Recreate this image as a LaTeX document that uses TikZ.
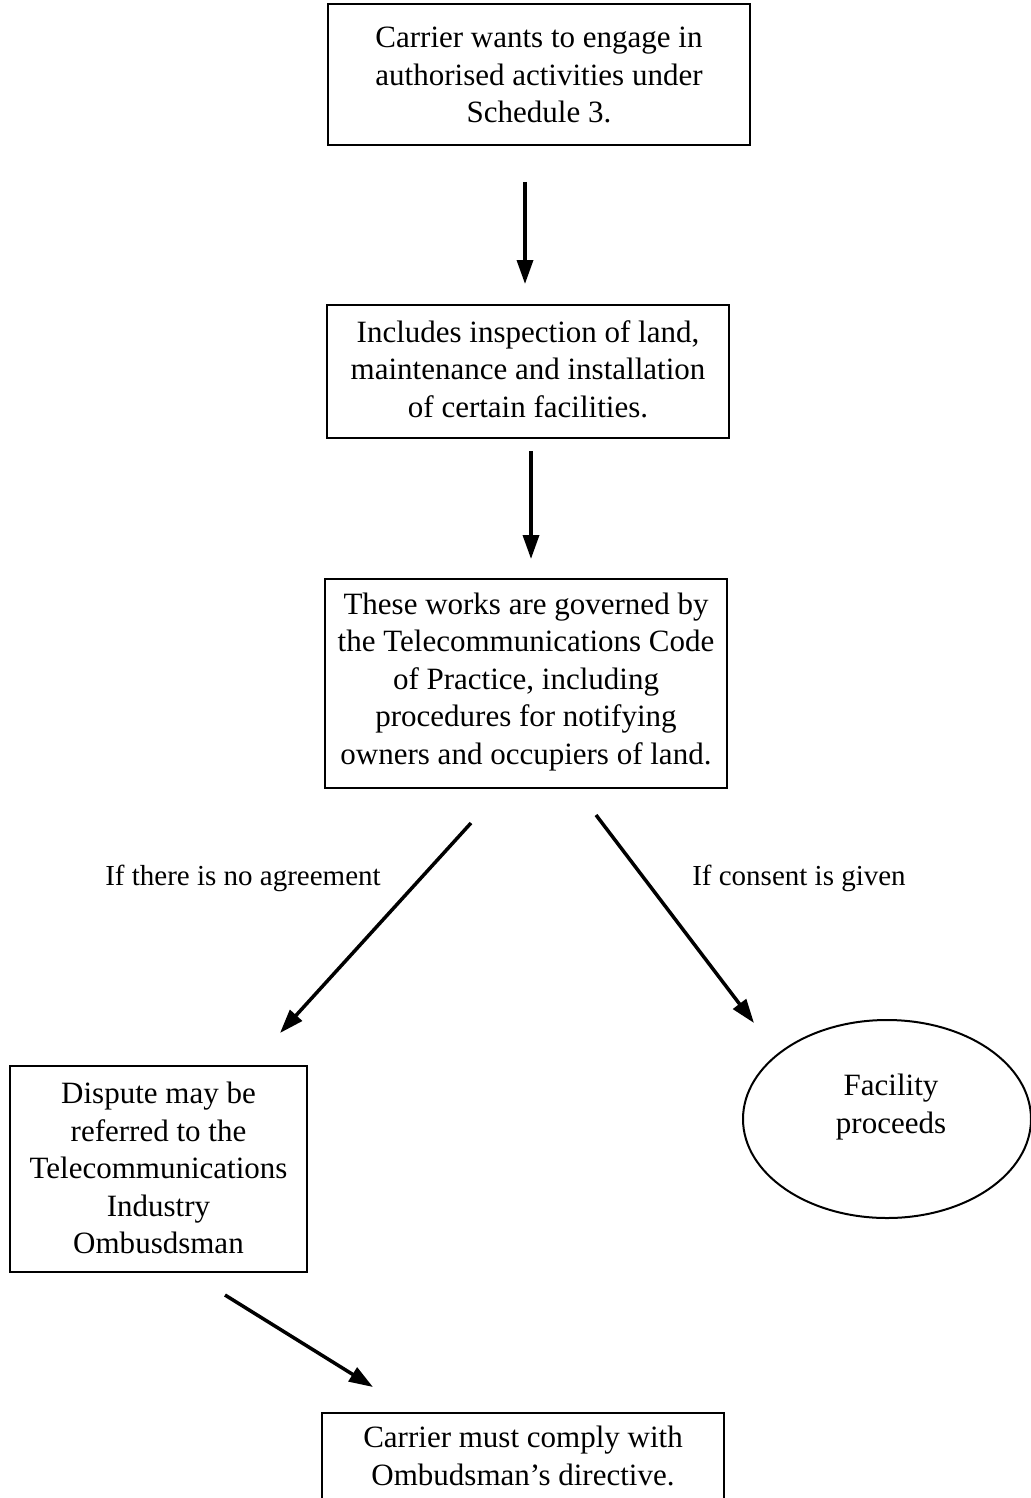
\documentclass[tikz,border=0pt]{standalone}
\usepackage{fontspec}
\setmainfont{Liberation Serif}
\usetikzlibrary{arrows.meta,shapes.geometric}
\begin{document}
\begin{tikzpicture}[x=1pt,y=-1pt,
  boxstyle/.style={draw,line width=2pt,inner sep=0pt},
  txt/.style={align=center,inner sep=0pt,font=\fontsize{31}{37.5}\selectfont},
  lbl/.style={inner sep=0pt,font=\fontsize{29}{35}\selectfont},
  arr/.style={line width=3.5pt,-{Triangle[length=24pt,width=16pt]}}]
\useasboundingbox (0,0) rectangle (1030,1498);
% boxes
\node[boxstyle,minimum width=422pt,minimum height=141pt] (b1) at (539,74.5) {};
\node[txt] (t1) at (539,75) {Carrier wants to engage in\\authorised activities under\\Schedule 3.};
\node[boxstyle,minimum width=402pt,minimum height=133pt] (b2) at (528,371.5) {};
\node[txt] (t2) at (528,369) {Includes inspection of land,\\maintenance and installation\\of certain facilities.};
\node[boxstyle,minimum width=402pt,minimum height=209pt] (b3) at (526,683.5) {};
\node[txt] (t3) at (526,682) {These works are governed by\\the Telecommunications Code\\of Practice, including\\procedures for notifying\\owners and occupiers of land.};
\node[boxstyle,minimum width=297pt,minimum height=206pt] (b4) at (158.5,1169) {};
\node[txt] (t4) at (158.5,1168) {Dispute may be\\referred to the\\Telecommunications\\Industry\\Ombusdsman};
\node[draw,ellipse,line width=2pt,minimum width=288pt,minimum height=198pt,inner sep=0pt] (e1) at (887,1119) {};
\node[txt] (t5) at (891,1107) {Facility\\proceeds};
\node[boxstyle,minimum width=402pt,minimum height=100pt] (b5) at (523,1463) {};
\node[txt] (t6) at (523,1456) {Carrier must comply with\\Ombudsman's directive.};
% labels
\node[lbl] (l1) at (243,878) {If there is no agreement};
\node[lbl] (l2) at (799,878) {If consent is given};
% connector coordinates
\coordinate (a1s) at (525,182);
\coordinate (a1e) at (525,284);
\coordinate (a2s) at (531,451);
\coordinate (a2e) at (531,559);
\coordinate (a3s) at (471,823);
\coordinate (a3e) at (280,1033);
\coordinate (a4s) at (596,815);
\coordinate (a4e) at (754,1023);
\coordinate (a5s) at (225,1295);
\coordinate (a5e) at (373,1387);
\draw[arr] (a1s) -- (a1e);
\draw[arr] (a2s) -- (a2e);
\draw[arr] (a3s) -- (a3e);
\draw[arr] (a4s) -- (a4e);
\draw[arr] (a5s) -- (a5e);
\end{tikzpicture}
\end{document}
